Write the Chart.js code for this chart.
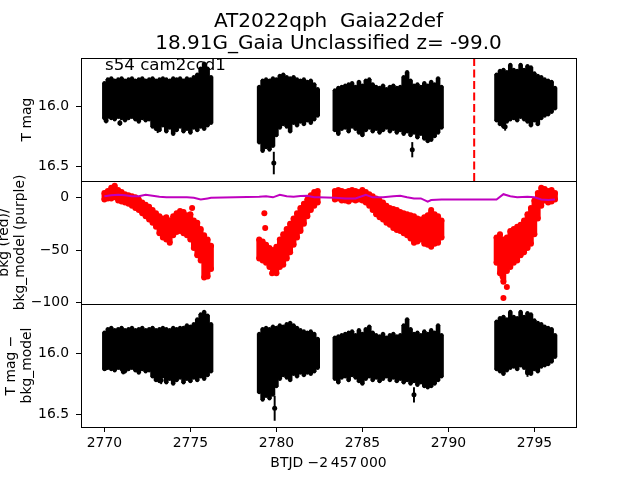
<!DOCTYPE html>
<html><head><meta charset="utf-8">
<script src="https://cdn.jsdelivr.net/npm/chart.js@4/dist/chart.umd.min.js"></script>
<style>
html,body{margin:0;padding:0;background:#fff;}
#wrap{position:relative;width:640px;height:480px;overflow:hidden;font-family:'DejaVu Sans';}
canvas{position:absolute;left:0;top:0;}
.t{position:absolute;color:#000;white-space:pre;}
</style></head><body>
<div id="wrap">
<canvas id="c1" width="640" height="480"></canvas>
<canvas id="c2" width="640" height="480"></canvas>
<canvas id="c3" width="640" height="480"></canvas>
<div class="t" style="left:81px;width:495px;top:9px;text-align:center;font-size:20px;line-height:22px;">AT2022qph  Gaia22def
18.91G_Gaia Unclassified z= -99.0</div>
<div class="t" style="left:105px;top:55px;font-size:16.67px;line-height:19px;">s54 cam2ccd1</div>
</div>
<script>
// ---- data ----
const times = [
 2770.0,2770.2,2770.4,2770.6,2770.8,2771.0,2771.2,2771.4,2771.6,2771.8,2772.0,2772.2,2772.4,2772.6,2772.8,2773.0,2773.2,2773.4,2773.6,2773.8,2774.0,2774.2,2774.4,2774.6,2774.8,2775.0,2775.2,2775.4,2775.6,2775.8,2776.0,2776.2,
 2779.0,2779.2,2779.4,2779.6,2779.8,2780.0,2780.2,2780.4,2780.6,2780.8,2781.0,2781.2,2781.4,2781.6,2781.8,2782.0,2782.2,2782.4,
 2783.4,2783.6,2783.8,2784.0,2784.2,2784.4,2784.6,2784.8,2785.0,2785.2,2785.4,2785.6,2785.8,2786.0,2786.2,2786.4,2786.6,2786.8,2787.0,2787.2,2787.4,2787.6,2787.8,2788.0,2788.2,2788.4,2788.6,2788.8,2789.0,2789.2,2789.4,2789.6,
 2792.8,2793.0,2793.2,2793.4,2793.6,2793.8,2794.0,2794.2,2794.4,2794.6,2794.8,2795.0,2795.2,2795.4,2795.6,2795.8,2796.0,2796.2];

// T mag: upper / lower envelope of the points with their error bars
const magHi = [
 15.81,15.78,15.77,15.79,15.78,15.77,15.79,15.78,15.77,15.79,15.78,15.77,15.79,15.78,15.77,15.79,15.78,15.77,15.78,15.79,15.77,15.78,15.77,15.79,15.77,15.78,15.76,15.74,15.69,15.65,15.69,15.76,
 15.84,15.79,15.78,15.79,15.77,15.78,15.75,15.74,15.76,15.77,15.76,15.78,15.79,15.78,15.80,15.79,15.82,15.86,
 15.87,15.85,15.84,15.83,15.82,15.81,15.84,15.80,15.83,15.79,15.78,15.82,15.84,15.85,15.83,15.86,15.84,15.83,15.85,15.84,15.76,15.72,15.79,15.83,15.82,15.84,15.81,15.83,15.80,15.82,15.77,15.84,
 15.74,15.71,15.70,15.72,15.66,15.70,15.71,15.66,15.70,15.67,15.68,15.73,15.75,15.76,15.78,15.79,15.80,15.85];
const magLo = [
 16.10,16.09,16.10,16.11,16.09,16.10,16.12,16.10,16.09,16.11,16.13,16.10,16.12,16.11,16.17,16.19,16.20,16.16,16.21,16.18,16.23,16.20,16.17,16.21,16.19,16.22,16.18,16.20,16.17,16.19,16.16,16.14,
 16.30,16.37,16.34,16.36,16.33,16.24,16.18,16.15,16.17,16.21,16.14,16.16,16.13,16.15,16.12,16.14,16.11,16.08,
 16.20,16.23,16.19,16.18,16.21,16.17,16.19,16.22,16.24,16.20,16.18,16.21,16.19,16.22,16.20,16.18,16.21,16.19,16.22,16.20,16.23,16.21,16.24,16.22,16.26,16.23,16.27,16.29,16.28,16.25,16.22,16.18,
 16.12,16.15,16.17,16.13,16.11,16.10,16.12,16.09,16.11,16.13,16.16,16.12,16.15,16.10,16.08,16.07,16.05,16.02];
const magOutT = [2770.1, 2770.9, 2773.1, 2779.85, 2787.9, 2793.3];
const magOutV = [16.12, 16.14, 16.19, 16.47, 16.36, 16.17];
const magOutE = [0.02, 0.02, 0.03, 0.09, 0.06, 0.03];

// bkg (red): upper / lower envelope
const bkgHi = [
 4,6,9,11,7,5,3,2,1,0,-2,-5,-7,-9,-12,-15,-18,-20,-19,-22,-18,-15,-13,-14,-17,-16,-22,-24,-30,-36,-40,-46,
 -40,-42,-45,-48,-50,-47,-40,-35,-30,-25,-20,-15,-10,-6,-2,2,5,6,
 6,7,6,5,6,7,6,5,7,5,3,1,-1,-3,-5,-8,-10,-11,-12,-14,-15,-16,-17,-18,-20,-21,-19,-17,-14,-16,-18,-22,
 -38,-35,-40,-38,-32,-30,-28,-26,-22,-16,-10,-3,4,9,8,6,7,4];
const bkgLo = [
 -2,-1,-1,0,-3,-4,-5,-6,-8,-10,-12,-15,-18,-21,-24,-28,-34,-38,-40,-43,-36,-33,-32,-34,-36,-40,-48,-55,-60,-76,-75,-68,
 -58,-60,-62,-66,-70,-72,-66,-64,-58,-52,-45,-38,-32,-25,-18,-12,-8,-5,
 -2,-1,-3,-3,-4,-2,-3,-2,-3,-5,-8,-12,-16,-19,-21,-24,-26,-29,-31,-32,-34,-36,-39,-43,-42,-40,-44,-45,-47,-44,-43,-38,
 -62,-72,-80,-70,-66,-62,-60,-55,-52,-48,-44,-35,-20,-8,-3,-5,-4,-2];
const bkgOutT = [2775.1, 2779.3, 2779.35, 2779.75, 2793.15, 2793.2, 2793.4, 2789.0];
const bkgOutV = [-10, -15, -29, -72, -75, -95.5, -85, -12];

// bkg_model (purple)
const modelT = [2770.0,2770.4,2770.8,2771.2,2771.6,2772.0,2772.4,2772.8,2773.2,2773.6,2774.0,2774.4,2774.8,2775.2,2775.6,2776.0,2776.2,
 2779.0,2779.4,2779.8,2780.2,2780.6,2781.0,2781.4,2781.8,2782.2,2782.4,
 2783.4,2784.0,2784.6,2785.2,2785.6,2786.2,2786.8,2787.2,2787.6,2788.0,2788.4,2788.8,2789.0,2789.6,
 2792.8,2793.2,2793.6,2794.0,2794.6,2795.0,2795.4,2795.8,2796.2];
const modelV = [1,2,2.5,2,1,1,2.5,1.5,0.5,0,0,0,0,-0.5,-2,-1,-0.5,
 0.5,1,0,2.5,1,0.5,1.2,1.5,0,0,
 -0.5,-1,-1,2.5,0,0,1,1.5,0,-1,-1,-4,-2.5,-2,
 -2,3,1,0,0.5,0,-2,-2.5,-2];

// T mag - bkg_model
const corrHi = [
 15.83,15.80,15.79,15.81,15.80,15.79,15.81,15.80,15.79,15.81,15.80,15.79,15.81,15.80,15.79,15.81,15.80,15.79,15.80,15.81,15.79,15.80,15.79,15.79,15.77,15.78,15.76,15.72,15.68,15.66,15.69,15.76,
 15.84,15.80,15.79,15.80,15.78,15.79,15.77,15.78,15.76,15.75,15.77,15.79,15.81,15.82,15.83,15.82,15.84,15.88,
 15.87,15.86,15.85,15.84,15.83,15.82,15.85,15.81,15.84,15.80,15.78,15.83,15.85,15.86,15.84,15.87,15.85,15.84,15.86,15.85,15.77,15.72,15.80,15.84,15.83,15.85,15.82,15.84,15.81,15.83,15.77,15.85,
 15.74,15.71,15.70,15.72,15.66,15.70,15.71,15.66,15.70,15.67,15.68,15.73,15.75,15.76,15.78,15.79,15.80,15.85];
const corrLo = [
 16.13,16.12,16.13,16.14,16.12,16.13,16.15,16.13,16.12,16.14,16.16,16.13,16.15,16.14,16.19,16.22,16.23,16.19,16.24,16.21,16.25,16.22,16.20,16.24,16.21,16.23,16.20,16.22,16.19,16.21,16.18,16.15,
 16.32,16.38,16.35,16.37,16.34,16.27,16.21,16.18,16.20,16.22,16.17,16.19,16.16,16.18,16.16,16.17,16.15,16.12,
 16.21,16.24,16.20,16.19,16.22,16.18,16.20,16.23,16.25,16.21,16.19,16.22,16.20,16.23,16.21,16.19,16.22,16.20,16.23,16.21,16.24,16.22,16.25,16.23,16.26,16.24,16.27,16.28,16.27,16.25,16.22,16.19,
 16.13,16.15,16.17,16.14,16.12,16.11,16.13,16.10,16.12,16.15,16.17,16.13,16.15,16.11,16.10,16.09,16.07,16.03];
const corrOutT = [2770.05, 2771.1, 2773.3, 2779.9, 2788.0, 2794.6];
const corrOutV = [16.12, 16.15, 16.22, 16.45, 16.34, 16.16];
const corrOutE = [0.02, 0.02, 0.03, 0.1, 0.06, 0.03];

const markerTime = 2791.5;

const xTicks = [2770, 2775, 2780, 2785, 2790, 2795];
const xTickLabels = ['2770', '2775', '2780', '2785', '2790', '2795'];
const magTicks = [16.0, 16.5];
const magTickLabels = ['16.0', '16.5'];
const bkgTicks = [0, -50, -100];
const bkgTickLabels = ['0', '\u221250', '\u2212100'];

// ---- helpers ----
const X_MIN = 2768.64, X_MAX = 2797.42;
const FONT = {family: "'DejaVu Sans'", size: 13.9, lineHeight: 1.15};
Chart.defaults.font.family = "'DejaVu Sans'";
Chart.defaults.font.size = 13.9;
Chart.defaults.color = '#000';
Chart.defaults.animation = false;

const ranges = (hi, lo) => times.map((t, i) => ({x: t, y: [hi[i], lo[i]]}));
const pts = vals => times.map((t, i) => ({x: t, y: vals[i]}));
const pairs = (ts, vs) => ts.map((t, i) => ({x: t, y: vs[i]}));
const errs = (ts, vs, es) => ts.map((t, i) => ({x: t, y: [vs[i] - es[i], vs[i] + es[i]]}));

const boxPlugin = {
  id: 'box',
  afterDraw(chart) {
    const {ctx, chartArea: a} = chart;
    ctx.save();
    ctx.strokeStyle = '#000';
    ctx.lineWidth = 1;
    ctx.strokeRect(Math.round(a.left) + 0.5, Math.round(a.top) + 0.5, Math.round(a.right - a.left), Math.round(a.bottom - a.top));
    ctx.restore();
  }
};
const vlinePlugin = {
  id: 'vline',
  afterDatasetsDraw(chart) {
    const {ctx, chartArea: a, scales} = chart;
    const x = scales.x.getPixelForValue(markerTime);
    ctx.save();
    ctx.strokeStyle = '#ff0000';
    ctx.lineWidth = 2;
    ctx.setLineDash([8, 3.5]);
    ctx.beginPath();
    ctx.moveTo(x, a.bottom);
    ctx.lineTo(x, a.top);
    ctx.stroke();
    ctx.restore();
  }
};

function yScale(min, max, reverse, ticks, labels, title, titlePad) {
  return {
    type: 'linear', position: 'left', min, max, reverse,
    afterFit(s) { s.width = 81; },
    afterBuildTicks(s) { s.ticks = ticks.map(v => ({value: v})); },
    ticks: {callback: (v, i) => labels[i], padding: 7, font: FONT, color: '#000', autoSkip: false},
    grid: {display: true, drawOnChartArea: false, drawTicks: true, tickLength: 5, color: '#000', lineWidth: 1},
    border: {display: false},
    title: {display: true, text: title, font: FONT, color: '#000', padding: {top: titlePad, bottom: 0}}
  };
}
const hiddenX = {type: 'linear', min: X_MIN, max: X_MAX, offset: false, display: false};
const shownX = {
  type: 'linear', position: 'bottom', min: X_MIN, max: X_MAX, offset: false,
  afterFit(s) { s.height = 53; },
  afterBuildTicks(s) { s.ticks = xTicks.map(v => ({value: v})); },
  ticks: {callback: (v, i) => xTickLabels[i], padding: 3, maxRotation: 0, autoSkip: false, font: FONT, color: '#000'},
  grid: {display: true, drawOnChartArea: false, drawTicks: true, tickLength: 5, color: '#000', lineWidth: 1, offset: false},
  border: {display: false},
  title: {display: true, text: 'BTJD \u22122\u2009457\u2009000', font: FONT, color: '#000', padding: {top: 0, bottom: 9}}
};
const baseOpts = (padding, x, y) => ({
  responsive: false, animation: false, events: [],
  layout: {padding},
  plugins: {legend: {display: false}, tooltip: {enabled: false}, title: {display: false}},
  scales: {x, y}
});
function lcSets(hi, lo, oT, oV, oE) {
  return [
    {type: 'scatter', data: pairs(oT, oV), pointRadius: 2.5, backgroundColor: '#000', borderColor: '#000', borderWidth: 0, order: 0},
    {type: 'bar', data: errs(oT, oV, oE), backgroundColor: '#000', barThickness: 1.3, grouped: false, order: 1},
    {type: 'scatter', data: pts(hi), pointRadius: 2, backgroundColor: '#000', borderColor: '#000', borderWidth: 0, order: 2},
    {type: 'scatter', data: pts(lo), pointRadius: 2, backgroundColor: '#000', borderColor: '#000', borderWidth: 0, order: 2},
    {type: 'bar', data: ranges(hi, lo), backgroundColor: '#000', barThickness: 4, grouped: false, order: 3}
  ];
}

new Chart(document.getElementById('c1'), {
  type: 'scatter',
  data: {datasets: lcSets(magHi, magLo, magOutT, magOutV, magOutE)},
  options: baseOpts({top: 58, bottom: 299, left: 0, right: 64}, hiddenX,
    yScale(15.604, 16.618, true, magTicks, magTickLabels, 'T mag', 19)),
  plugins: [vlinePlugin, boxPlugin]
});

new Chart(document.getElementById('c2'), {
  type: 'scatter',
  data: {datasets: [
    {type: 'line', data: pairs(modelT, modelV), borderColor: '#bf00bf', borderWidth: 2, pointRadius: 0, fill: false, tension: 0, order: 0},
    {type: 'scatter', data: pairs(bkgOutT, bkgOutV), pointRadius: 3, backgroundColor: '#ff0000', borderColor: '#ff0000', borderWidth: 0, order: 1},
    {type: 'scatter', data: pts(bkgHi), pointRadius: 3, backgroundColor: '#ff0000', borderColor: '#ff0000', borderWidth: 0, order: 2},
    {type: 'scatter', data: pts(bkgLo), pointRadius: 3, backgroundColor: '#ff0000', borderColor: '#ff0000', borderWidth: 0, order: 2},
    {type: 'bar', data: ranges(bkgHi, bkgLo), backgroundColor: '#ff0000', barThickness: 5, grouped: false, order: 3}
  ]},
  options: baseOpts({top: 181, bottom: 176, left: 0, right: 64}, hiddenX,
    yScale(-101.2, 15.5, false, bkgTicks, bkgTickLabels, ['bkg (red)/', 'bkg_model (purple)'], -4)),
  plugins: [boxPlugin]
});

new Chart(document.getElementById('c3'), {
  type: 'scatter',
  data: {datasets: lcSets(corrHi, corrLo, corrOutT, corrOutV, corrOutE)},
  options: baseOpts({top: 304, bottom: 0, left: 0, right: 64}, shownX,
    yScale(15.596, 16.604, true, magTicks, magTickLabels, ['T mag \u2212', 'bkg_model'], 3)),
  plugins: [boxPlugin]
});
</script>
</body></html>
